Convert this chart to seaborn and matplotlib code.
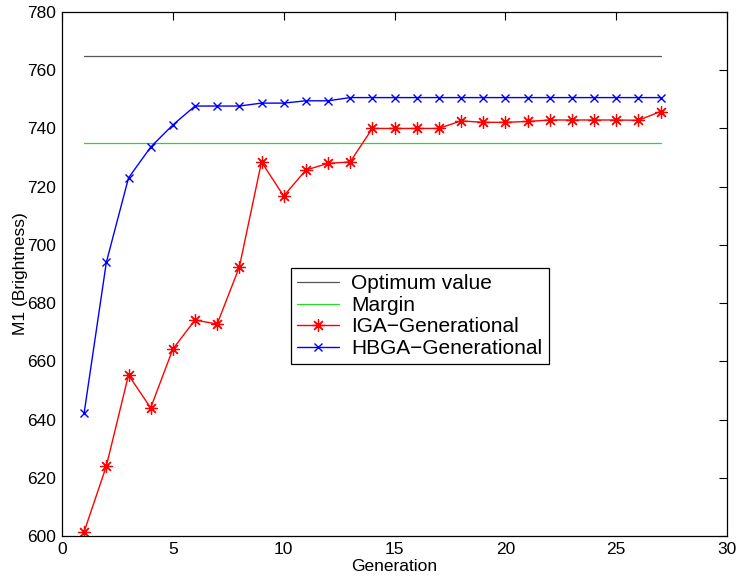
import matplotlib
matplotlib.use("Agg")
import matplotlib.pyplot as plt
import seaborn as sns
import pandas as pd
import numpy as np

generations = list(range(1, 28))
iga = [601.5, 624, 655.3, 644, 664.2, 674.2, 672.8, 692.4, 728.5, 716.8,
       725.7, 728, 728.5, 740, 740, 740, 740, 742.6, 742.1, 742.1,
       742.4, 742.9, 742.9, 742.9, 742.9, 742.8, 745.8]
hbga = [642.3, 694, 723, 733.6, 741.2, 747.7, 747.7, 747.7, 748.7, 748.7,
        749.5, 749.5, 750.6, 750.6, 750.6, 750.6, 750.6, 750.6, 750.6, 750.6,
        750.6, 750.6, 750.6, 750.6, 750.6, 750.6, 750.6]
optimum = [765] * 27
margin = [735] * 27

sns.set_style("white")
plt.rcParams['font.family'] = ['Liberation Sans', 'DejaVu Sans']
plt.rcParams['text.color'] = 'black'
plt.rcParams['axes.labelcolor'] = 'black'

fig = plt.figure(figsize=(7.36, 5.81), dpi=100)
ax = fig.add_axes([62/736, 1 - 536/581, 665/736, 524/581])

sns.lineplot(x=generations, y=optimum, ax=ax, color='#555555', lw=0.9, label='Optimum value')
sns.lineplot(x=generations, y=margin, ax=ax, color='#22dd22', lw=0.9, label='Margin')
sns.lineplot(x=generations, y=iga, ax=ax, color='red', lw=1.0, marker=(8, 2, 0), markersize=9,
             markeredgewidth=0.9, markeredgecolor='red', label='IGA\u2212Generational')
sns.lineplot(x=generations, y=hbga, ax=ax, color='blue', lw=1.0, marker='x', markersize=6,
             markeredgewidth=1.0, markeredgecolor='blue', label='HBGA\u2212Generational')

ax.set_xlim(0, 30)
ax.set_ylim(600, 780)
ax.set_xticks(range(0, 31, 5))
ax.set_yticks(range(600, 781, 20))
ax.tick_params(direction='in', length=6, labelsize=12.5, top=True, right=True, width=0.8,
               colors='black', pad=4)
for s in ax.spines.values():
    s.set_visible(True)
    s.set_color('black')
    s.set_linewidth(0.9)
ax.set_xlabel('Generation', fontsize=12.5, labelpad=2, color='black')
ax.set_ylabel('M1 (Brightness)', fontsize=12.5, labelpad=0, color='black')

leg = ax.legend(loc='lower left', bbox_to_anchor=(0.344, 0.328), fontsize=15,
                frameon=True, fancybox=False, edgecolor='black', framealpha=1,
                borderpad=0.3, labelspacing=0.12, handlelength=2.0, handletextpad=0.6,
                borderaxespad=0)
leg.get_frame().set_linewidth(0.9)
for t in leg.get_texts():
    t.set_color('black')

fig.savefig('out.png', dpi=100)
